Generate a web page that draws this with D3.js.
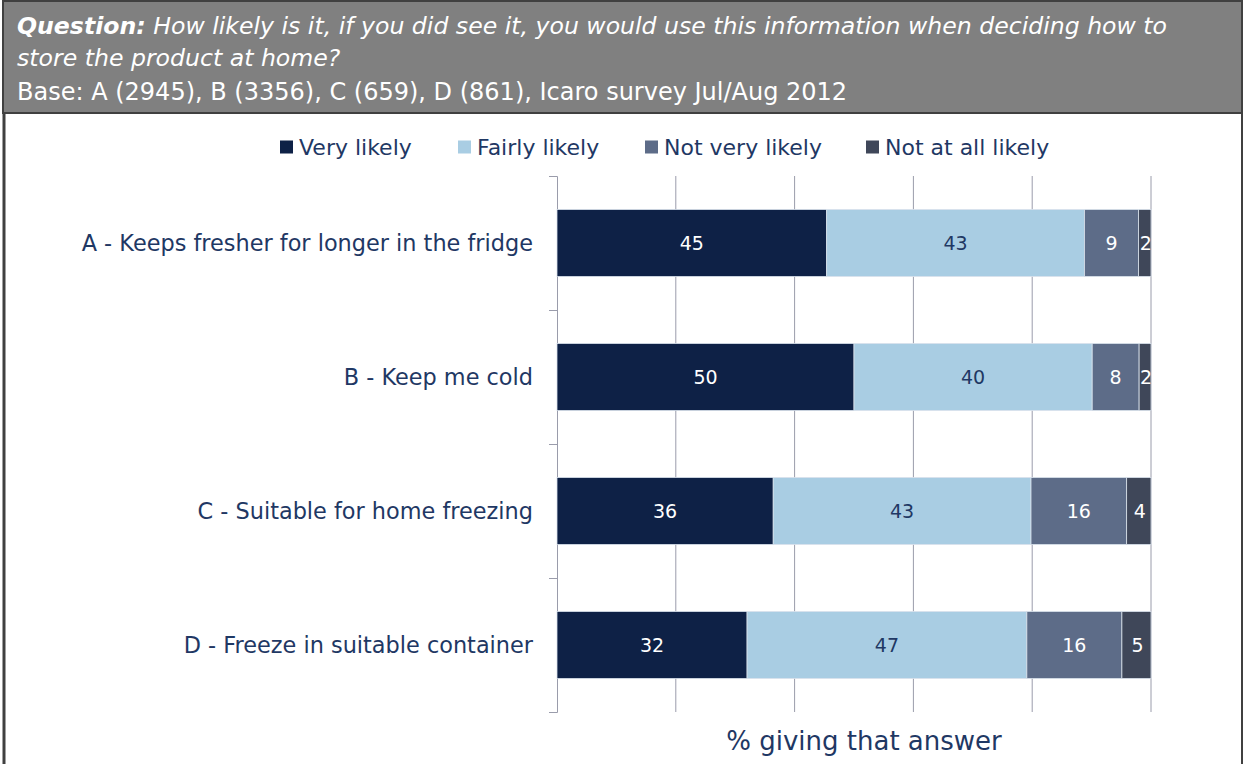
<!DOCTYPE html>
<html><head><meta charset="utf-8">
<script src="https://cdn.jsdelivr.net/npm/d3@7"></script>
<style>
html,body{margin:0;padding:0;background:#fff;}
svg{display:block;font-family:"DejaVu Sans",sans-serif;}
</style></head>
<body><svg id="c" width="1244" height="764"></svg>
<script>
const categories = ["A - Keeps fresher for longer in the fridge","B - Keep me cold","C - Suitable for home freezing","D - Freeze in suitable container"];
const seriesNames = ["Very likely","Fairly likely","Not very likely","Not at all likely"];
const veryLikely   = [45.4, 50.0, 36.4, 32.0];
const fairlyLikely = [43.4, 40.1, 43.4, 47.1];
const notVery      = [9.1, 7.9, 16.1, 16.0];
const notAtAll     = [2.1, 2.0, 4.1, 4.9];
const xTicks = [0,20,40,60,80,100];
const colors = ["#0e2146","#a9cde3","#5d6c88","#3f4759"];
const labelColors = ["#ffffff","#1f3864","#ffffff","#ffffff"];

const svg = d3.select("#c");
const navy = "#1f3864";

// header
svg.append("rect").attr("x",3).attr("y",1).attr("width",1239).attr("height",112)
  .attr("fill","#808080").attr("stroke","#404040").attr("stroke-width",2);
svg.append("line").attr("x1",4).attr("x2",4).attr("y1",113).attr("y2",764).attr("stroke","#404040").attr("stroke-width",3);
svg.append("line").attr("x1",1242).attr("x2",1242).attr("y1",113).attr("y2",764).attr("stroke","#404040").attr("stroke-width",2);

const h1 = svg.append("text").attr("x",17).attr("y",34).attr("fill","#fff").attr("font-size",23.6).attr("font-style","italic");
h1.append("tspan").attr("font-weight","bold").text("Question:");
h1.append("tspan").text(" How likely is it, if you did see it, you would use this information when deciding how to");
svg.append("text").attr("x",17).attr("y",66).attr("fill","#fff").attr("font-size",23.6).attr("font-style","italic")
  .text("store the product at home?");
svg.append("text").attr("x",17).attr("y",100).attr("fill","#fff").attr("font-size",24)
  .text("Base: A (2945), B (3356), C (659), D (861), Icaro survey Jul/Aug 2012");

// scales
const x = d3.scaleLinear().domain([0,100]).range([557,1151]);
const y = d3.scaleBand().domain(categories).range([176,712]).paddingInner(0.5).paddingOuter(0.25);

// gridlines
svg.append("g").selectAll("line").data(xTicks.slice(1)).join("line")
  .attr("x1",d=>x(d)).attr("x2",d=>x(d)).attr("y1",176).attr("y2",712)
  .attr("stroke","#9a9cab").attr("stroke-width",1);

// y axis
const yAxisScale = d3.scaleLinear().domain([0,categories.length]).range([176,712]);
svg.append("g").attr("transform","translate(557,0)")
  .call(d3.axisLeft(yAxisScale).ticks(4).tickSize(8).tickFormat(""))
  .call(g=>g.selectAll("path,line").attr("stroke","#9a9cab"))
  .call(g=>g.select(".domain").attr("d","M-8,176.5H0.5V712.5H-8"));

// stack
const rows = categories.map((c,i)=>({cat:c, "Very likely":veryLikely[i], "Fairly likely":fairlyLikely[i], "Not very likely":notVery[i], "Not at all likely":notAtAll[i]}));
const stack = d3.stack().keys(seriesNames)(rows);

const gs = svg.append("g").selectAll("g").data(stack).join("g").attr("fill",(d,i)=>colors[i]);
gs.selectAll("rect").data(d=>d).join("rect")
  .attr("x",d=>x(d[0])).attr("width",d=>x(d[1])-x(d[0]))
  .attr("y",d=>y(d.data.cat)).attr("height",y.bandwidth())
  .attr("stroke","#d9e2ec").attr("stroke-width",0.8);
stack.forEach((s,i)=>{
  svg.append("g").selectAll("text").data(s).join("text")
    .attr("x",d=>(x(d[0])+x(d[1]))/2 + (i===3?1:0)).attr("y",d=>y(d.data.cat)+y.bandwidth()/2)
    .attr("dy","0.36em").attr("text-anchor","middle").attr("fill",labelColors[i]).attr("font-size",19)
    .text(d=>Math.round(d[1]-d[0]));
});

// category labels
svg.append("g").selectAll("text").data(categories).join("text")
  .attr("x",533).attr("y",d=>y(d)+y.bandwidth()/2).attr("dy","0.36em").attr("text-anchor","end")
  .attr("fill",navy).attr("font-size",22.4).text(d=>d);

// legend
const legX = [280,458,645,866];
const leg = svg.append("g").selectAll("g").data(seriesNames).join("g")
  .attr("transform",(d,i)=>`translate(${legX[i]},147)`);
leg.append("rect").attr("x",0).attr("y",-6.5).attr("width",13).attr("height",13).attr("fill",(d,i)=>colors[i]);
leg.append("text").attr("x",19).attr("dy","0.36em").attr("fill",navy).attr("font-size",22).text(d=>d);

// axis title
svg.append("text").attr("x",864).attr("y",741).attr("dy","0.36em").attr("text-anchor","middle")
  .attr("fill",navy).attr("font-size",26).text("% giving that answer");
</script></body></html>
